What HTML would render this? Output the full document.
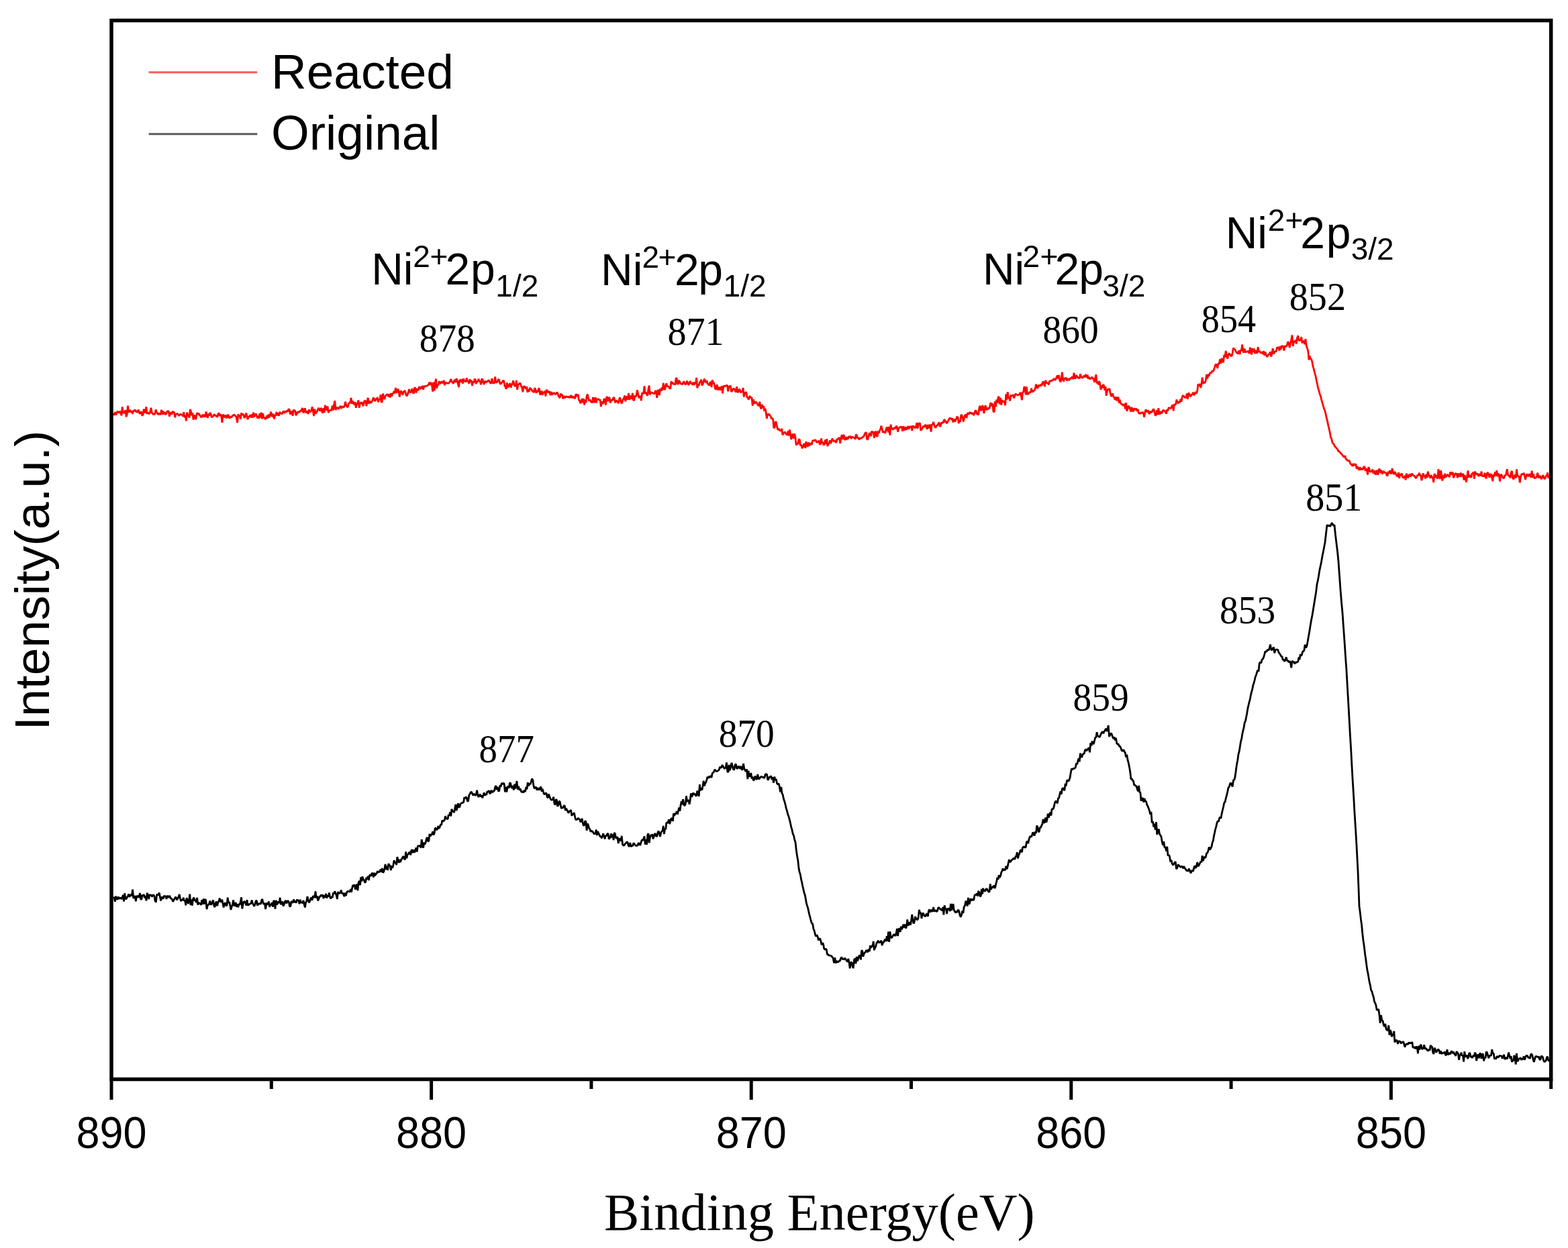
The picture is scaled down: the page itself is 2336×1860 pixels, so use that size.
<!DOCTYPE html>
<html><head><meta charset="utf-8"><title>Ni 2p XPS</title>
<style>
html,body{margin:0;padding:0;background:#fff;}
body{width:2336px;height:1860px;overflow:hidden;}
svg{display:block;}
.sans{font-family:"Liberation Sans",Arial,sans-serif;}
.serif{font-family:"Liberation Serif","Times New Roman",serif;}
</style></head><body>
<svg width="2336" height="1860" viewBox="0 0 2336 1860">
<rect width="2336" height="1860" fill="#fff"/>
<path d="M168.0,617.1 169.2,617.0 170.4,618.7 171.6,614.1 172.7,618.3 173.9,615.7 175.1,613.2 176.3,613.9 177.5,615.5 178.7,612.8 179.9,615.3 181.0,619.3 182.2,606.4 183.4,614.5 184.6,615.6 185.8,614.5 187.0,611.3 188.1,621.3 189.3,616.8 190.5,604.6 191.7,614.9 192.9,612.3 194.1,611.3 195.3,614.6 196.4,612.6 197.6,617.0 198.8,611.5 200.0,612.4 201.2,610.6 202.4,614.0 203.6,611.9 204.8,615.1 206.0,610.7 207.1,612.8 208.3,616.8 209.5,615.2 210.7,613.5 211.9,619.8 213.1,617.4 214.3,609.8 215.5,613.2 216.7,615.3 217.9,606.3 219.0,616.9 220.2,614.8 221.4,616.4 222.6,616.7 223.8,614.1 225.0,607.8 226.2,615.2 227.4,616.2 228.6,617.9 229.8,617.3 231.0,616.5 232.1,610.4 233.3,614.5 234.5,615.8 235.7,618.2 236.9,615.5 238.1,617.0 239.3,617.7 240.5,610.7 241.7,617.6 242.9,612.5 244.0,617.6 245.2,614.2 246.4,617.6 247.6,616.8 248.8,613.2 250.0,613.0 251.2,612.5 252.4,620.9 253.6,616.1 254.8,615.0 256.0,617.8 257.1,612.9 258.3,614.8 259.5,613.9 260.7,622.1 261.9,617.5 263.1,617.0 264.3,616.4 265.5,618.0 266.7,619.5 267.9,618.1 269.0,617.1 270.2,618.0 271.4,618.3 272.6,620.5 273.8,614.2 275.0,622.2 276.2,618.6 277.4,627.4 278.6,614.6 279.8,618.7 281.0,619.7 282.1,622.5 283.3,610.0 284.5,613.6 285.7,619.4 286.9,615.5 288.1,625.5 289.3,620.3 290.5,619.1 291.7,625.3 292.9,618.5 294.0,615.0 295.2,617.8 296.4,616.0 297.6,619.1 298.8,620.1 300.0,622.4 301.2,619.0 302.4,618.3 303.6,621.7 304.8,617.6 306.0,621.3 307.1,613.5 308.3,620.8 309.5,622.5 310.7,616.4 311.9,619.4 313.1,614.9 314.3,618.1 315.5,622.0 316.7,621.0 317.9,619.6 319.0,617.6 320.2,618.5 321.4,620.2 322.6,619.3 323.8,622.0 325.0,616.7 326.2,615.6 327.4,619.8 328.6,617.1 329.8,621.1 331.0,629.9 332.1,617.7 333.3,619.9 334.5,622.0 335.7,618.6 336.9,621.6 338.1,623.1 339.3,617.8 340.5,619.3 341.7,623.2 342.9,622.5 344.0,620.8 345.2,622.1 346.4,619.0 347.6,619.5 348.8,617.8 350.0,619.1 351.2,620.0 352.4,623.0 353.6,630.0 354.8,617.4 356.0,619.6 357.1,619.9 358.3,624.5 359.5,615.5 360.7,618.8 361.9,616.7 363.1,619.4 364.3,623.0 365.5,620.1 366.7,615.7 367.9,619.9 369.0,625.1 370.2,620.8 371.4,621.9 372.6,618.4 373.8,622.0 375.0,617.5 376.2,622.8 377.4,614.6 378.6,621.3 379.8,618.9 381.0,616.6 382.1,618.4 383.3,623.2 384.5,619.8 385.7,623.8 386.9,616.1 388.1,622.4 389.3,614.6 390.5,624.3 391.7,616.2 392.9,623.3 394.0,621.7 395.2,624.9 396.4,623.2 397.6,619.4 398.8,623.6 400.0,617.6 401.2,622.2 402.4,618.6 403.6,613.7 404.8,619.6 406.0,621.0 407.2,616.6 408.4,624.4 409.6,619.6 410.8,618.7 412.0,614.0 413.2,619.4 414.4,615.6 415.6,619.7 416.8,613.8 418.0,616.2 419.2,615.7 420.4,617.2 421.6,613.8 422.8,612.7 424.0,615.8 425.2,612.5 426.4,614.4 427.6,611.4 428.8,613.4 430.0,609.4 431.2,610.8 432.4,617.4 433.6,614.1 434.8,613.2 436.1,619.8 437.3,611.0 438.5,611.5 439.7,612.4 440.9,618.9 442.1,617.3 443.3,613.3 444.5,615.3 445.8,613.8 447.0,612.3 448.2,613.5 449.4,610.2 450.6,608.1 451.8,615.0 453.0,613.9 454.2,608.3 455.5,614.6 456.7,614.3 457.9,612.7 459.1,617.1 460.3,610.4 461.5,613.5 462.7,613.9 463.9,611.8 465.2,606.2 466.4,613.1 467.6,620.0 468.8,609.6 470.0,616.6 471.2,614.9 472.4,613.4 473.6,610.3 474.8,607.9 476.0,611.3 477.2,612.4 478.4,607.9 479.6,612.9 480.8,615.8 482.0,608.1 483.2,614.8 484.4,603.8 485.6,608.1 486.8,611.6 488.0,605.4 489.2,615.2 490.4,612.1 491.6,611.8 492.8,610.8 494.0,611.8 495.2,604.5 496.4,611.6 497.6,603.5 498.8,597.2 500.0,611.2 501.2,607.6 502.4,607.3 503.6,609.2 504.8,609.1 506.1,606.5 507.3,605.2 508.5,608.9 509.7,605.9 510.9,606.4 512.1,607.1 513.3,604.8 514.5,598.7 515.8,603.8 517.0,606.2 518.2,606.9 519.4,601.4 520.6,600.5 521.8,599.8 523.0,593.0 524.2,601.7 525.5,597.8 526.7,600.6 527.9,603.3 529.1,599.2 530.3,607.8 531.5,602.5 532.7,601.1 533.9,596.5 535.2,607.8 536.4,600.7 537.6,600.8 538.8,599.4 540.0,602.3 541.2,605.3 542.4,598.7 543.5,596.9 544.7,598.4 545.9,605.2 547.1,598.1 548.2,592.9 549.4,601.9 550.6,597.2 551.8,600.6 552.9,599.7 554.1,598.3 555.3,595.8 556.5,592.3 557.6,596.0 558.8,598.2 560.0,594.1 561.2,595.8 562.4,592.0 563.5,599.4 564.7,595.0 565.9,595.9 567.1,588.2 568.2,600.2 569.4,597.7 570.6,586.6 571.8,591.7 572.9,595.2 574.1,590.5 575.3,589.0 576.5,588.3 577.6,587.4 578.8,591.3 580.0,587.4 581.2,592.4 582.4,586.1 583.5,590.7 584.7,586.8 585.9,586.3 587.1,583.0 588.2,586.4 589.4,577.9 590.6,585.9 591.8,583.3 592.9,579.7 594.1,583.3 595.3,591.6 596.5,584.5 597.6,582.3 598.8,585.8 600.0,588.5 601.2,584.0 602.4,582.5 603.5,582.9 604.7,587.7 605.9,590.3 607.1,588.2 608.2,584.8 609.4,580.0 610.6,584.3 611.8,585.1 612.9,582.5 614.1,579.1 615.3,585.6 616.5,586.2 617.6,578.0 618.8,578.1 620.0,585.5 621.2,579.3 622.4,581.4 623.5,580.8 624.7,576.0 625.9,580.0 627.1,576.4 628.2,579.3 629.4,575.0 630.6,580.7 631.8,574.9 632.9,576.7 634.1,575.3 635.3,575.2 636.5,574.7 637.6,574.2 638.8,572.6 640.0,569.4 641.2,573.8 642.4,570.1 643.5,574.1 644.7,583.6 645.9,569.7 647.1,582.4 648.2,570.9 649.4,564.6 650.6,579.0 651.8,573.0 652.9,574.2 654.1,568.2 655.3,570.6 656.5,571.9 657.6,568.8 658.8,569.5 660.0,571.1 661.2,566.8 662.4,574.2 663.5,569.7 664.7,571.1 665.9,570.7 667.1,571.2 668.2,571.3 669.4,570.1 670.6,568.2 671.8,564.9 672.9,568.2 674.1,570.2 675.3,571.7 676.5,567.8 677.6,566.0 678.8,570.1 680.0,564.1 681.2,567.3 682.4,572.1 683.5,577.1 684.7,565.9 685.9,569.6 687.1,565.1 688.2,567.4 689.4,571.7 690.6,564.2 691.8,568.2 692.9,568.3 694.1,568.9 695.3,563.3 696.5,569.3 697.6,567.0 698.8,571.8 700.0,565.3 701.2,569.0 702.4,566.9 703.5,574.9 704.7,568.4 705.9,570.7 707.1,564.8 708.2,565.8 709.4,572.2 710.6,568.3 711.8,568.7 712.9,564.6 714.1,568.1 715.3,568.8 716.5,573.2 717.6,565.0 718.8,565.1 720.0,570.1 721.2,572.9 722.4,568.2 723.5,568.9 724.7,569.9 725.9,568.3 727.1,567.7 728.2,566.4 729.4,569.2 730.6,571.1 731.8,571.2 732.9,564.0 734.1,571.0 735.3,570.7 736.5,571.1 737.6,561.5 738.8,569.2 740.0,570.1 741.2,568.5 742.4,565.6 743.5,565.6 744.7,571.3 745.9,572.5 747.1,570.3 748.2,569.8 749.4,567.3 750.6,567.3 751.8,574.5 752.9,576.6 754.1,579.7 755.3,570.4 756.5,576.0 757.6,577.1 758.8,573.2 760.0,571.1 761.2,577.5 762.4,573.4 763.5,572.1 764.7,567.0 765.9,573.6 767.1,575.6 768.2,575.0 769.4,567.0 770.6,580.8 771.8,573.4 772.9,572.7 774.1,571.0 775.3,571.5 776.5,575.8 777.6,577.0 778.8,584.2 780.0,576.0 781.2,575.8 782.4,577.3 783.5,579.6 784.7,576.1 785.9,584.7 787.1,580.3 788.2,583.8 789.4,578.1 790.6,579.1 791.8,580.2 792.9,583.0 794.1,583.3 795.3,584.9 796.5,578.3 797.6,580.0 798.8,585.8 800.0,581.8 801.2,584.4 802.4,579.1 803.5,579.1 804.7,588.6 805.9,586.1 807.1,582.6 808.2,588.5 809.4,584.5 810.6,585.6 811.8,582.7 812.9,590.5 814.1,581.0 815.3,582.1 816.5,585.1 817.6,584.1 818.8,583.3 820.0,589.1 821.2,584.0 822.4,588.3 823.5,586.2 824.7,586.0 825.9,585.6 827.1,587.8 828.2,587.2 829.4,585.2 830.6,585.6 831.8,589.7 832.9,591.6 834.1,593.1 835.3,586.6 836.5,589.7 837.6,587.8 838.8,594.3 840.0,589.9 841.2,593.1 842.4,592.0 843.5,590.7 844.7,591.5 845.9,591.4 847.1,592.3 848.2,591.0 849.4,593.2 850.6,588.9 851.8,593.1 852.9,590.1 854.1,593.5 855.3,590.7 856.5,594.3 857.6,588.2 858.8,587.9 860.0,591.1 861.2,587.7 862.4,596.7 863.5,596.4 864.7,601.1 865.9,598.9 867.1,594.2 868.2,600.2 869.4,594.0 870.6,603.6 871.8,595.9 872.9,600.0 874.1,590.6 875.3,587.5 876.5,593.3 877.6,597.6 878.8,595.7 880.0,598.1 881.2,599.5 882.4,599.5 883.5,592.0 884.7,600.4 885.9,594.8 887.1,592.3 888.2,600.4 889.4,595.2 890.6,594.7 891.8,595.0 892.9,596.5 894.1,595.3 895.3,606.1 896.5,598.4 897.6,601.7 898.8,600.5 900.0,594.0 901.2,597.0 902.4,603.5 903.5,592.1 904.7,591.6 905.9,598.3 907.1,592.7 908.2,592.9 909.4,600.7 910.6,595.6 911.8,596.9 912.9,595.7 914.1,592.0 915.3,594.1 916.5,600.3 917.6,597.4 918.8,597.4 920.0,598.7 921.2,601.2 922.4,595.7 923.5,592.3 924.7,597.2 925.9,601.4 927.1,598.8 928.2,594.9 929.4,594.5 930.6,589.4 931.8,598.4 932.9,593.2 934.1,590.5 935.3,595.6 936.5,585.9 937.6,595.8 938.8,591.6 940.0,589.8 941.2,595.0 942.4,585.8 943.5,596.4 944.7,596.7 945.9,589.6 947.1,591.5 948.2,588.9 949.4,581.2 950.6,587.1 951.8,593.1 952.9,591.6 954.1,590.1 955.3,597.2 956.5,586.5 957.6,585.3 958.8,586.9 960.0,575.5 961.2,586.9 962.4,584.7 963.5,588.3 964.7,589.5 965.9,580.6 967.1,574.5 968.2,588.3 969.4,584.5 970.6,584.8 971.8,585.6 972.9,586.0 974.1,586.7 975.3,586.1 976.5,581.9 977.6,585.9 978.8,592.9 980.0,581.0 981.2,582.5 982.4,589.1 983.5,579.5 984.7,582.6 985.9,577.6 987.1,581.9 988.2,570.8 989.4,578.1 990.6,581.0 991.8,574.5 992.9,571.3 994.1,576.1 995.3,575.4 996.5,576.8 997.6,578.9 998.8,579.2 1000.0,568.2 1001.2,571.0 1002.4,570.7 1003.5,573.0 1004.7,571.4 1005.9,573.7 1007.1,563.3 1008.2,564.1 1009.4,572.7 1010.6,571.5 1011.8,566.6 1012.9,569.8 1014.1,572.2 1015.3,571.6 1016.5,573.2 1017.6,570.5 1018.8,568.3 1020.0,571.4 1021.2,573.2 1022.4,572.2 1023.5,567.7 1024.7,570.5 1025.9,573.7 1027.1,571.7 1028.2,568.0 1029.4,570.7 1030.6,571.8 1031.8,573.6 1032.9,569.6 1034.1,573.5 1035.3,569.8 1036.5,572.1 1037.6,562.8 1038.8,578.4 1040.0,573.3 1041.2,575.0 1042.4,568.9 1043.5,569.5 1044.7,565.6 1045.9,574.5 1047.1,572.4 1048.2,568.4 1049.4,564.3 1050.6,568.8 1051.8,570.0 1052.9,567.2 1054.1,572.0 1055.3,572.5 1056.5,574.7 1057.6,570.5 1058.8,569.0 1060.0,577.0 1061.2,566.3 1062.4,570.5 1063.5,570.5 1064.7,574.8 1065.9,580.8 1067.1,578.4 1068.2,573.1 1069.4,581.3 1070.6,578.8 1071.8,577.1 1072.9,581.4 1074.1,578.2 1075.3,575.5 1076.5,586.3 1077.6,576.6 1078.8,574.8 1080.0,575.8 1081.2,574.8 1082.4,574.5 1083.5,574.0 1084.7,583.2 1085.9,576.0 1087.1,576.3 1088.2,574.5 1089.4,583.3 1090.6,583.2 1091.8,580.0 1092.9,579.2 1094.1,579.5 1095.3,582.7 1096.5,584.3 1097.6,576.1 1098.8,584.7 1100.0,584.1 1101.2,580.0 1102.4,581.4 1103.5,585.1 1104.7,583.5 1105.9,583.9 1107.1,577.9 1108.2,591.5 1109.4,586.6 1110.6,584.6 1111.8,585.1 1112.9,591.7 1114.1,593.1 1115.3,595.7 1116.5,591.2 1117.6,590.6 1118.8,593.5 1120.0,592.3 1121.2,604.7 1122.4,595.2 1123.5,600.5 1124.7,601.2 1125.9,598.9 1127.1,599.5 1128.2,601.9 1129.4,604.2 1130.6,604.6 1131.8,598.7 1132.9,606.8 1134.1,609.4 1135.3,602.9 1136.5,607.9 1137.6,605.1 1138.8,612.8 1140.0,608.8 1141.2,615.0 1142.4,624.0 1143.5,616.9 1144.7,618.7 1145.9,616.7 1147.1,619.5 1148.2,620.3 1149.4,624.3 1150.6,623.0 1151.8,626.3 1152.9,637.8 1154.1,636.8 1155.3,628.1 1156.5,629.9 1157.6,635.9 1158.8,640.7 1160.0,638.8 1161.2,640.9 1162.4,642.1 1163.5,641.5 1164.7,638.8 1165.9,648.4 1167.1,645.6 1168.2,645.1 1169.4,643.6 1170.6,646.1 1171.8,647.5 1172.9,648.5 1174.1,642.3 1175.3,649.6 1176.5,640.1 1177.6,647.7 1178.8,654.9 1180.0,648.2 1181.2,646.5 1182.5,653.4 1183.8,646.6 1185.0,652.5 1186.2,663.7 1187.5,659.9 1188.8,662.2 1190.0,655.2 1191.2,654.6 1192.5,664.3 1193.8,662.9 1195.0,668.3 1196.2,666.5 1197.4,662.4 1198.6,661.3 1199.8,667.9 1201.0,658.1 1202.1,664.2 1203.3,665.5 1204.5,659.4 1205.7,664.7 1206.9,660.4 1208.1,661.6 1209.3,662.6 1210.5,656.9 1211.7,656.6 1212.9,656.7 1214.0,655.7 1215.2,656.1 1216.4,659.1 1217.6,659.1 1218.8,658.5 1220.0,656.6 1221.2,661.6 1222.4,662.4 1223.5,653.3 1224.7,660.6 1225.9,659.1 1227.1,663.6 1228.2,661.8 1229.4,655.4 1230.6,661.7 1231.8,654.1 1232.9,665.2 1234.1,661.4 1235.3,661.0 1236.5,656.2 1237.6,661.0 1238.8,657.8 1240.0,653.4 1241.2,656.6 1242.4,657.9 1243.5,657.8 1244.7,656.2 1245.9,660.0 1247.1,654.2 1248.2,654.7 1249.4,652.9 1250.6,652.6 1251.8,660.9 1252.9,652.7 1254.1,648.0 1255.3,655.1 1256.5,648.1 1257.6,649.5 1258.8,656.1 1260.0,651.2 1261.2,655.7 1262.4,651.1 1263.5,654.4 1264.7,650.0 1265.9,651.8 1267.1,649.9 1268.2,653.9 1269.4,651.1 1270.6,651.6 1271.8,652.4 1272.9,652.2 1274.1,654.7 1275.3,647.4 1276.5,649.2 1277.6,653.2 1278.8,652.3 1280.0,655.3 1281.2,652.9 1282.4,653.5 1283.5,652.8 1284.7,651.9 1285.9,650.8 1287.1,650.1 1288.2,647.1 1289.4,644.7 1290.6,645.0 1291.8,655.3 1292.9,654.8 1294.1,650.2 1295.3,645.4 1296.5,646.3 1297.6,650.1 1298.8,642.5 1300.0,644.8 1301.2,643.3 1302.4,652.6 1303.5,648.2 1304.7,642.4 1305.9,650.0 1307.1,650.3 1308.2,642.3 1309.4,645.5 1310.6,641.5 1311.8,639.6 1312.9,634.5 1314.1,639.4 1315.3,644.3 1316.5,643.5 1317.6,643.7 1318.8,645.6 1320.0,640.2 1321.2,636.3 1322.4,641.0 1323.5,644.2 1324.7,635.8 1325.9,648.7 1327.1,632.7 1328.2,638.8 1329.4,638.9 1330.6,640.4 1331.8,637.9 1332.9,637.7 1334.1,638.8 1335.3,634.7 1336.5,637.1 1337.6,643.6 1338.8,639.2 1340.0,636.9 1341.2,636.3 1342.4,637.1 1343.5,635.7 1344.7,642.8 1345.9,635.1 1347.1,640.4 1348.2,640.6 1349.4,636.4 1350.6,640.3 1351.8,637.8 1352.9,635.1 1354.1,639.5 1355.3,635.3 1356.5,636.8 1357.6,635.1 1358.8,641.7 1360.0,634.6 1361.2,635.7 1362.4,636.6 1363.5,638.3 1364.7,635.6 1365.9,630.0 1367.1,638.7 1368.2,632.0 1369.4,630.9 1370.6,631.0 1371.8,641.8 1372.9,640.1 1374.1,638.2 1375.3,635.6 1376.5,634.7 1377.6,636.8 1378.8,632.7 1380.0,635.6 1381.2,639.8 1382.4,633.1 1383.5,638.4 1384.7,633.6 1385.9,633.3 1387.1,643.7 1388.2,632.9 1389.4,632.7 1390.6,628.9 1391.8,633.4 1392.9,636.5 1394.1,637.2 1395.3,634.1 1396.5,634.0 1397.6,632.4 1398.8,629.2 1400.0,634.9 1401.2,635.3 1402.4,629.7 1403.5,630.3 1404.7,630.2 1405.9,627.7 1407.1,624.7 1408.2,629.6 1409.4,627.7 1410.6,631.2 1411.8,628.5 1412.9,626.9 1414.1,624.1 1415.3,622.8 1416.5,623.8 1417.6,625.8 1418.8,623.5 1420.0,629.5 1421.2,624.5 1422.4,627.9 1423.5,627.4 1424.7,623.9 1425.9,620.8 1427.1,622.2 1428.2,631.1 1429.4,626.3 1430.6,628.9 1431.8,618.3 1432.9,618.8 1434.1,622.3 1435.3,628.5 1436.5,622.6 1437.6,618.8 1438.8,618.0 1440.0,623.0 1441.2,615.7 1442.4,616.2 1443.5,617.6 1444.7,614.2 1445.9,615.5 1447.1,615.3 1448.2,617.2 1449.4,615.1 1450.6,619.0 1451.8,615.8 1452.9,612.1 1454.1,611.8 1455.3,617.6 1456.5,614.4 1457.6,618.9 1458.8,608.3 1460.0,604.8 1461.2,611.5 1462.4,611.4 1463.5,604.1 1464.7,606.7 1465.9,616.0 1467.1,608.1 1468.2,604.1 1469.4,611.2 1470.6,607.8 1471.8,610.4 1472.9,607.6 1474.1,609.1 1475.3,602.1 1476.5,600.3 1477.6,605.4 1478.8,601.2 1480.0,613.9 1481.2,613.4 1482.4,598.1 1483.5,606.2 1484.7,595.6 1485.9,600.7 1487.1,592.0 1488.2,591.3 1489.4,602.4 1490.6,593.0 1491.8,603.7 1492.9,595.9 1494.1,599.2 1495.3,597.9 1496.5,598.8 1497.6,604.3 1498.8,587.3 1500.0,595.7 1501.2,584.2 1502.4,592.6 1503.5,592.9 1504.7,597.5 1505.9,588.9 1507.1,589.9 1508.2,590.2 1509.4,588.2 1510.6,593.4 1511.8,590.0 1512.9,586.9 1514.1,587.6 1515.3,588.5 1516.5,588.8 1517.6,588.6 1518.8,587.8 1520.0,584.9 1521.2,589.2 1522.4,596.3 1523.5,584.6 1524.7,584.6 1525.9,576.2 1527.1,578.2 1528.2,588.4 1529.4,576.4 1530.6,588.1 1531.8,586.9 1532.9,586.2 1534.1,584.0 1535.3,585.6 1536.5,578.7 1537.6,583.1 1538.8,584.4 1540.0,582.2 1541.2,581.9 1542.4,578.3 1543.5,572.7 1544.7,577.3 1545.9,579.0 1547.1,573.7 1548.2,575.5 1549.4,575.0 1550.6,572.8 1551.8,575.1 1552.9,571.2 1554.1,568.6 1555.3,571.6 1556.5,576.2 1557.6,566.8 1558.8,570.3 1560.0,571.0 1561.2,571.0 1562.4,573.4 1563.5,567.8 1564.7,568.3 1565.9,567.8 1567.1,566.4 1568.2,567.3 1569.4,565.1 1570.6,564.5 1571.8,566.7 1572.9,564.8 1574.1,562.5 1575.3,559.4 1576.5,564.3 1577.6,559.0 1578.8,566.7 1580.0,569.3 1581.2,565.0 1582.4,554.7 1583.5,565.4 1584.7,568.6 1585.9,563.2 1587.1,564.6 1588.2,562.7 1589.4,567.3 1590.6,565.0 1591.8,565.0 1592.9,567.0 1594.1,563.7 1595.3,564.3 1596.5,562.7 1597.6,561.3 1598.8,565.2 1600.0,555.6 1601.2,563.3 1602.4,563.9 1603.5,559.2 1604.7,561.5 1605.9,562.8 1607.1,563.3 1608.2,563.9 1609.4,557.6 1610.6,560.8 1611.8,563.3 1612.9,562.9 1614.1,561.4 1615.3,559.7 1616.5,562.2 1617.6,557.8 1618.8,562.7 1620.0,558.7 1621.2,564.8 1622.4,561.9 1623.5,564.5 1624.7,564.8 1625.9,563.1 1627.1,562.0 1628.2,563.7 1629.4,565.8 1630.6,569.7 1631.8,563.0 1632.9,558.4 1634.1,571.4 1635.3,569.0 1636.5,573.3 1637.6,568.0 1638.8,572.3 1640.0,580.8 1641.2,574.3 1642.4,578.5 1643.5,573.0 1644.7,574.7 1645.9,581.8 1647.1,576.4 1648.2,589.8 1649.4,583.6 1650.6,579.6 1651.8,580.8 1652.9,579.1 1654.1,585.9 1655.3,590.0 1656.5,590.0 1657.6,586.3 1658.8,591.0 1660.0,592.5 1661.2,595.7 1662.4,591.4 1663.5,597.2 1664.7,594.3 1665.9,591.6 1667.1,600.5 1668.2,595.5 1669.4,601.2 1670.6,602.2 1671.8,602.6 1672.9,604.2 1674.1,603.9 1675.3,602.0 1676.5,609.5 1677.6,600.2 1678.8,612.7 1680.0,609.3 1681.2,605.0 1682.4,606.0 1683.5,609.2 1684.7,613.6 1685.9,607.1 1687.1,609.8 1688.2,613.5 1689.4,609.4 1690.6,609.2 1691.8,611.1 1692.9,608.5 1694.1,613.0 1695.3,610.1 1696.5,616.2 1697.6,616.0 1698.8,616.5 1700.0,614.5 1701.2,616.0 1702.4,613.9 1703.5,616.7 1704.7,621.7 1705.9,613.9 1707.1,610.3 1708.2,614.2 1709.4,613.1 1710.6,611.5 1711.8,616.5 1712.9,616.3 1714.1,613.0 1715.3,614.9 1716.5,613.3 1717.6,610.9 1718.8,609.4 1720.0,614.2 1721.2,619.5 1722.4,618.2 1723.5,611.3 1724.7,618.2 1725.9,608.2 1727.1,617.2 1728.2,616.5 1729.4,613.1 1730.6,616.1 1731.8,614.0 1732.9,611.0 1734.1,611.8 1735.3,612.7 1736.5,614.3 1737.6,616.5 1738.8,610.2 1740.0,612.1 1741.2,607.3 1742.4,608.1 1743.5,608.3 1744.7,608.2 1745.9,605.0 1747.1,603.4 1748.2,612.3 1749.4,602.3 1750.6,603.9 1751.8,601.8 1752.9,595.6 1754.1,599.6 1755.3,601.3 1756.5,598.3 1757.6,600.1 1758.8,594.9 1760.0,598.7 1761.2,592.0 1762.4,589.2 1763.5,590.4 1764.7,592.0 1765.9,592.7 1767.1,591.6 1768.2,586.5 1769.4,594.7 1770.6,585.4 1771.8,587.3 1772.9,590.4 1774.1,590.5 1775.3,587.8 1776.5,587.7 1777.6,584.8 1778.8,589.2 1780.0,587.0 1781.2,583.9 1782.5,586.5 1783.8,582.2 1785.0,572.1 1786.2,575.6 1787.5,572.0 1788.8,577.9 1790.0,573.0 1791.2,562.4 1792.5,571.9 1793.8,569.3 1795.0,571.0 1796.2,567.6 1797.5,558.1 1798.8,564.6 1800.0,557.5 1801.2,560.7 1802.5,556.2 1803.8,555.1 1805.0,555.8 1806.2,552.3 1807.5,553.4 1808.8,549.8 1810.0,546.1 1811.2,542.8 1812.5,544.2 1813.8,549.0 1815.0,541.3 1816.2,543.0 1817.5,535.4 1818.8,541.7 1820.0,533.8 1821.2,538.2 1822.5,540.2 1823.8,528.8 1825.0,532.2 1826.2,523.0 1827.5,530.7 1828.8,534.6 1830.0,528.8 1831.2,526.5 1832.5,528.4 1833.8,530.4 1835.0,530.7 1836.2,526.1 1837.5,518.5 1838.8,520.3 1840.0,521.1 1841.2,524.1 1842.4,525.1 1843.5,527.1 1844.7,526.1 1845.9,522.4 1847.1,528.1 1848.2,521.7 1849.4,523.2 1850.6,513.4 1851.8,522.3 1852.9,525.8 1854.1,519.5 1855.3,525.0 1856.5,524.5 1857.6,523.6 1858.8,524.0 1860.0,523.3 1861.2,527.0 1862.4,517.8 1863.5,524.3 1864.7,528.4 1865.9,519.3 1867.1,524.8 1868.2,519.6 1869.4,526.9 1870.6,522.1 1871.8,525.6 1872.9,526.2 1874.1,517.2 1875.3,524.7 1876.5,523.1 1877.6,525.0 1878.8,526.1 1880.0,524.5 1881.2,527.8 1882.5,523.0 1883.8,529.7 1885.0,524.7 1886.2,528.8 1887.5,531.6 1888.8,530.5 1890.0,527.4 1891.2,528.5 1892.5,524.2 1893.8,531.4 1895.0,526.8 1896.2,519.1 1897.5,527.4 1898.8,525.2 1900.0,523.2 1901.2,524.2 1902.4,518.1 1903.5,518.1 1904.7,517.5 1905.9,522.6 1907.1,516.1 1908.2,521.1 1909.4,514.9 1910.6,518.0 1911.8,515.1 1912.9,522.5 1914.1,515.8 1915.3,516.0 1916.5,516.4 1917.6,513.7 1918.8,509.1 1920.0,511.1 1921.2,518.1 1922.5,511.9 1923.8,506.4 1925.0,499.4 1926.2,516.0 1927.5,509.4 1928.8,508.7 1930.0,507.0 1931.2,512.5 1932.5,503.7 1933.8,500.3 1935.0,507.9 1936.2,506.8 1937.5,507.1 1938.8,502.5 1940.0,511.3 1941.2,509.6 1942.5,507.9 1943.8,513.1 1945.0,505.1 1946.2,515.2 1947.5,519.1 1948.8,523.0 1950.0,536.4 1951.2,530.4 1952.5,534.8 1953.8,535.6 1955.0,540.0 1956.2,546.5 1957.5,550.6 1958.8,556.4 1960.0,560.2 1961.2,566.6 1962.5,572.3 1963.8,578.8 1965.0,582.4 1966.2,587.4 1967.5,590.3 1968.8,596.2 1970.0,600.3 1971.2,604.4 1972.5,609.0 1973.8,612.1 1975.0,616.7 1976.2,622.4 1977.5,627.6 1978.8,633.7 1980.0,638.8 1981.2,644.3 1982.5,651.6 1983.8,654.2 1985.0,659.6 1986.2,661.3 1987.5,662.6 1988.8,665.7 1990.0,666.4 1991.2,668.4 1992.5,669.2 1993.8,672.8 1995.0,672.3 1996.2,673.9 1997.5,675.6 1998.8,676.7 2000.0,678.2 2001.2,680.1 2002.5,681.4 2003.8,679.1 2005.0,684.1 2006.2,684.4 2007.5,686.7 2008.8,686.7 2010.0,686.1 2011.2,689.5 2012.5,692.1 2013.8,692.2 2015.0,694.8 2016.2,691.0 2017.5,693.7 2018.8,691.5 2020.0,692.6 2021.2,698.7 2022.4,695.1 2023.5,698.7 2024.7,700.6 2025.9,696.3 2027.1,700.0 2028.2,697.8 2029.4,700.0 2030.6,698.7 2031.8,695.6 2032.9,695.7 2034.1,701.8 2035.3,698.1 2036.5,702.2 2037.6,707.5 2038.8,696.2 2040.0,698.6 2041.2,703.5 2042.4,702.1 2043.5,703.4 2044.7,699.5 2045.9,705.1 2047.1,704.9 2048.2,701.2 2049.4,707.8 2050.6,703.2 2051.8,700.8 2052.9,707.8 2054.1,700.1 2055.3,698.8 2056.5,705.0 2057.6,700.5 2058.8,705.3 2060.0,705.9 2061.2,701.9 2062.4,704.4 2063.5,704.4 2064.7,704.4 2065.9,708.0 2067.1,709.6 2068.2,702.7 2069.4,705.9 2070.6,701.2 2071.8,703.9 2072.9,706.3 2074.1,698.0 2075.3,702.8 2076.5,707.2 2077.6,703.1 2078.8,704.5 2080.0,707.4 2081.2,709.7 2082.4,709.5 2083.5,704.0 2084.7,712.7 2085.9,706.5 2087.1,708.7 2088.2,705.4 2089.4,710.8 2090.6,711.5 2091.8,712.5 2092.9,708.9 2094.1,715.2 2095.3,705.7 2096.5,709.1 2097.6,712.3 2098.8,709.4 2100.0,706.5 2101.2,710.2 2102.4,708.2 2103.6,705.5 2104.8,708.1 2106.0,709.0 2107.1,708.8 2108.3,711.0 2109.5,712.9 2110.7,710.6 2111.9,707.8 2113.1,709.0 2114.3,704.8 2115.5,708.1 2116.7,708.6 2117.9,716.1 2119.0,712.2 2120.2,705.5 2121.4,709.3 2122.6,709.5 2123.8,713.2 2125.0,706.8 2126.2,711.7 2127.4,702.7 2128.6,708.0 2129.8,709.7 2131.0,712.7 2132.1,708.1 2133.3,711.4 2134.5,711.4 2135.7,719.0 2136.9,706.4 2138.1,707.5 2139.3,711.9 2140.5,708.2 2141.7,713.8 2142.9,699.3 2144.0,705.9 2145.2,714.0 2146.4,701.2 2147.6,707.0 2148.8,716.5 2150.0,708.6 2151.2,713.0 2152.4,705.8 2153.6,711.4 2154.8,710.0 2156.0,707.2 2157.1,707.7 2158.3,709.6 2159.5,710.9 2160.7,703.6 2161.9,705.0 2163.1,707.4 2164.3,703.7 2165.5,712.3 2166.7,709.1 2167.9,705.6 2169.0,705.8 2170.2,706.4 2171.4,712.2 2172.6,705.4 2173.8,708.5 2175.0,710.5 2176.2,704.6 2177.4,710.1 2178.6,708.2 2179.8,706.0 2181.0,715.5 2182.1,708.1 2183.3,712.2 2184.5,718.5 2185.7,710.4 2186.9,701.4 2188.1,711.6 2189.3,709.5 2190.5,708.3 2191.7,712.1 2192.9,705.5 2194.0,706.3 2195.2,703.3 2196.4,713.6 2197.6,702.5 2198.8,706.9 2200.0,706.1 2201.2,705.8 2202.4,709.7 2203.6,708.4 2204.8,705.9 2206.0,709.3 2207.1,702.6 2208.3,710.1 2209.5,708.9 2210.7,710.2 2211.9,704.8 2213.1,710.8 2214.3,713.1 2215.5,705.1 2216.7,704.5 2217.9,708.1 2219.0,711.7 2220.2,706.5 2221.4,707.0 2222.6,711.5 2223.8,717.3 2225.0,707.0 2226.2,710.2 2227.4,703.5 2228.6,709.3 2229.8,701.3 2231.0,710.1 2232.1,705.7 2233.3,707.8 2234.5,717.7 2235.7,708.0 2236.9,707.2 2238.1,710.4 2239.3,712.1 2240.5,712.9 2241.7,708.7 2242.9,708.6 2244.0,706.0 2245.2,699.3 2246.4,707.0 2247.6,709.8 2248.8,708.4 2250.0,712.4 2251.2,704.4 2252.4,701.9 2253.6,712.1 2254.8,714.3 2256.0,709.9 2257.1,707.7 2258.3,712.3 2259.5,699.4 2260.7,709.4 2261.9,709.8 2263.1,709.8 2264.3,719.4 2265.5,710.8 2266.7,706.6 2267.9,706.6 2269.0,706.9 2270.2,704.9 2271.4,709.5 2272.6,714.9 2273.8,708.5 2275.0,706.4 2276.2,709.2 2277.4,709.7 2278.6,706.1 2279.8,708.9 2281.0,711.5 2282.1,701.7 2283.3,711.6 2284.5,706.2 2285.7,712.6 2286.9,712.7 2288.1,711.2 2289.3,711.7 2290.5,704.7 2291.7,708.8 2292.9,712.6 2294.0,709.0 2295.2,710.6 2296.4,714.2 2297.6,710.4 2298.8,708.2 2300.0,712.4 2301.1,714.0 2302.2,712.3 2303.4,708.9 2304.5,709.1 2305.6,704.2 2306.8,712.5 2307.9,709.6 2309.0,710.1" fill="none" stroke="#ff0000" stroke-width="2.8" stroke-linejoin="bevel"/>
<path d="M169.0,1338.9 170.2,1336.9 171.4,1343.8 172.6,1335.7 173.8,1338.8 175.0,1340.9 176.2,1336.6 177.3,1339.0 178.5,1339.2 179.7,1337.7 180.9,1339.9 182.1,1338.2 183.3,1333.8 184.5,1343.5 185.7,1331.3 186.9,1339.4 188.1,1340.0 189.3,1337.1 190.5,1335.8 191.7,1332.6 192.8,1336.9 194.0,1333.6 195.2,1334.1 196.4,1335.1 197.6,1325.7 198.8,1338.9 200.0,1336.0 201.2,1335.8 202.4,1343.2 203.6,1334.7 204.8,1337.7 206.0,1334.4 207.2,1337.8 208.4,1330.9 209.6,1339.7 210.8,1340.7 212.0,1333.5 213.2,1335.7 214.4,1333.1 215.6,1338.5 216.8,1335.2 218.0,1342.4 219.2,1330.8 220.4,1333.3 221.6,1339.9 222.8,1333.6 224.0,1334.2 225.2,1333.7 226.4,1336.5 227.6,1334.2 228.8,1333.8 230.0,1335.7 231.2,1343.0 232.4,1344.5 233.6,1333.5 234.8,1333.4 236.0,1333.8 237.2,1330.6 238.4,1336.5 239.6,1342.4 240.8,1337.3 242.0,1337.1 243.2,1339.6 244.4,1335.2 245.6,1335.7 246.8,1335.6 248.0,1339.8 249.2,1335.1 250.4,1336.3 251.6,1337.6 252.8,1334.9 254.0,1338.6 255.2,1339.1 256.4,1340.2 257.6,1343.7 258.8,1341.7 260.0,1339.7 261.2,1337.0 262.4,1337.7 263.6,1341.4 264.8,1338.9 266.0,1336.8 267.2,1332.9 268.4,1339.1 269.6,1343.1 270.8,1341.0 272.0,1341.5 273.2,1337.9 274.4,1342.6 275.6,1341.6 276.8,1349.4 278.0,1338.1 279.2,1342.2 280.4,1347.0 281.6,1341.4 282.8,1332.6 284.0,1348.9 285.2,1340.7 286.4,1349.5 287.6,1339.9 288.8,1337.7 290.0,1342.0 291.2,1341.3 292.4,1345.2 293.6,1338.0 294.8,1348.6 296.0,1344.9 297.2,1347.1 298.4,1345.8 299.6,1348.9 300.8,1341.1 302.0,1347.7 303.2,1339.4 304.4,1347.5 305.6,1340.1 306.8,1341.8 308.0,1355.2 309.2,1349.3 310.4,1348.5 311.6,1346.9 312.8,1342.6 314.0,1348.5 315.2,1347.5 316.4,1344.4 317.6,1341.6 318.8,1349.9 320.0,1352.1 321.2,1346.1 322.4,1343.6 323.6,1350.3 324.8,1345.1 326.0,1343.0 327.2,1338.5 328.4,1344.3 329.6,1343.3 330.8,1340.8 332.0,1346.7 333.2,1352.5 334.4,1346.8 335.6,1345.4 336.8,1349.4 338.0,1350.0 339.2,1337.6 340.4,1346.1 341.6,1344.2 342.8,1349.2 344.0,1356.0 345.2,1351.3 346.4,1348.5 347.6,1341.5 348.8,1350.0 350.0,1349.5 351.2,1344.9 352.4,1351.8 353.6,1347.3 354.8,1352.2 356.0,1347.1 357.2,1348.8 358.4,1343.4 359.6,1337.3 360.8,1354.4 362.0,1347.7 363.2,1344.1 364.4,1343.7 365.6,1345.2 366.8,1349.3 368.0,1341.3 369.2,1349.5 370.4,1348.6 371.6,1347.4 372.8,1347.0 374.0,1346.2 375.2,1341.7 376.4,1346.6 377.6,1348.2 378.8,1350.8 380.0,1347.6 381.2,1342.7 382.4,1342.1 383.6,1349.7 384.8,1347.5 386.0,1346.7 387.2,1346.8 388.4,1347.4 389.6,1342.2 390.8,1340.0 392.0,1346.0 393.2,1347.7 394.4,1345.8 395.6,1355.1 396.8,1347.9 398.0,1345.6 399.2,1348.4 400.4,1343.4 401.6,1351.8 402.8,1347.0 404.0,1349.5 405.2,1345.1 406.4,1351.5 407.6,1342.8 408.8,1342.7 410.0,1354.7 411.2,1341.9 412.4,1347.6 413.6,1347.1 414.8,1343.5 416.0,1346.1 417.2,1337.8 418.4,1348.0 419.6,1346.4 420.8,1343.4 422.0,1350.5 423.2,1347.9 424.4,1344.0 425.6,1341.8 426.8,1346.4 428.0,1343.5 429.2,1342.4 430.4,1344.8 431.6,1350.6 432.8,1350.8 434.0,1343.2 435.2,1344.5 436.4,1345.4 437.6,1340.5 438.8,1344.8 440.0,1342.8 441.2,1345.7 442.4,1340.6 443.6,1342.6 444.8,1341.3 446.0,1347.3 447.2,1340.9 448.4,1345.2 449.6,1345.2 450.8,1345.7 452.0,1342.0 453.2,1347.9 454.4,1352.4 455.6,1345.1 456.8,1342.8 458.0,1336.0 459.2,1341.8 460.4,1345.2 461.6,1343.3 462.8,1339.2 464.0,1337.6 465.2,1341.8 466.4,1335.3 467.6,1336.4 468.8,1337.9 470.0,1328.3 471.2,1338.7 472.4,1335.2 473.6,1342.3 474.8,1340.0 476.0,1336.1 477.2,1336.0 478.4,1333.7 479.6,1335.8 480.8,1333.4 482.0,1339.2 483.2,1334.4 484.4,1337.5 485.6,1331.9 486.8,1338.7 488.0,1334.3 489.2,1336.4 490.4,1330.5 491.6,1336.6 492.8,1339.5 494.0,1336.4 495.2,1337.7 496.4,1330.7 497.6,1332.3 498.8,1328.3 500.0,1331.3 501.2,1334.1 502.4,1340.0 503.5,1329.1 504.7,1331.4 505.9,1330.8 507.1,1331.0 508.2,1326.5 509.4,1331.9 510.6,1330.7 511.8,1333.2 512.9,1336.1 514.1,1330.6 515.3,1335.2 516.5,1330.5 517.6,1328.5 518.8,1328.6 520.0,1328.5 521.2,1329.5 522.4,1325.1 523.5,1329.8 524.7,1323.3 525.9,1318.8 527.1,1321.8 528.2,1318.2 529.4,1325.7 530.6,1321.5 531.8,1317.8 532.9,1327.4 534.1,1315.3 535.3,1313.0 536.5,1319.3 537.6,1307.5 538.8,1313.4 540.0,1306.4 541.2,1311.3 542.4,1311.2 543.5,1315.3 544.7,1314.6 545.9,1307.8 547.1,1310.5 548.2,1305.8 549.4,1312.1 550.6,1304.2 551.8,1304.2 552.9,1305.6 554.1,1301.1 555.3,1301.9 556.5,1307.5 557.6,1300.8 558.8,1305.2 560.0,1302.2 561.2,1302.1 562.4,1298.2 563.5,1300.0 564.7,1299.6 565.9,1298.5 567.1,1295.4 568.2,1300.0 569.4,1293.9 570.6,1300.8 571.8,1299.0 572.9,1294.6 574.1,1288.0 575.3,1295.8 576.5,1290.8 577.6,1297.1 578.8,1287.1 580.0,1289.4 581.2,1290.6 582.4,1297.1 583.5,1290.3 584.7,1293.6 585.9,1289.3 587.1,1282.2 588.2,1285.5 589.4,1285.9 590.6,1289.1 591.8,1277.1 592.9,1281.2 594.1,1285.8 595.3,1281.0 596.5,1285.0 597.6,1281.8 598.8,1279.9 600.0,1277.2 601.2,1276.4 602.4,1280.5 603.5,1280.8 604.7,1269.4 605.9,1279.2 607.1,1272.9 608.2,1273.6 609.4,1270.6 610.6,1269.8 611.8,1274.3 612.9,1266.9 614.1,1267.0 615.3,1271.0 616.5,1266.6 617.6,1270.8 618.8,1266.7 620.0,1263.4 621.2,1269.5 622.4,1260.9 623.5,1260.9 624.7,1260.3 625.9,1261.2 627.1,1263.6 628.2,1251.1 629.4,1258.2 630.6,1263.8 631.8,1255.5 632.9,1258.5 634.1,1255.8 635.3,1250.4 636.5,1248.0 637.6,1253.8 638.8,1253.7 640.0,1243.0 641.2,1246.4 642.4,1243.2 643.5,1244.2 644.7,1239.2 645.9,1244.3 647.1,1241.8 648.2,1234.1 649.4,1234.5 650.6,1237.3 651.8,1234.6 652.9,1231.2 654.1,1234.9 655.3,1232.1 656.5,1228.7 657.6,1229.7 658.8,1222.7 660.0,1223.9 661.2,1223.4 662.4,1221.9 663.5,1216.2 664.7,1219.7 665.9,1220.2 667.1,1220.8 668.2,1214.2 669.4,1215.6 670.6,1210.4 671.8,1216.4 672.9,1205.9 674.1,1208.8 675.3,1209.2 676.5,1211.0 677.6,1205.6 678.8,1199.0 680.0,1208.1 681.2,1203.6 682.4,1197.3 683.5,1202.9 684.7,1203.1 685.9,1198.1 687.1,1197.3 688.2,1196.8 689.4,1196.1 690.6,1195.7 691.8,1188.2 692.9,1190.3 694.1,1187.7 695.3,1188.8 696.5,1194.5 697.6,1193.6 698.8,1185.3 700.0,1183.4 701.2,1180.9 702.4,1180.1 703.5,1182.5 704.7,1185.4 705.9,1183.1 707.1,1184.3 708.2,1185.7 709.4,1183.8 710.6,1177.7 711.8,1185.2 712.9,1187.9 714.1,1185.6 715.3,1183.8 716.5,1187.6 717.6,1185.5 718.8,1189.2 720.0,1184.7 721.2,1181.5 722.4,1185.7 723.5,1183.5 724.7,1184.7 725.9,1179.7 727.1,1180.3 728.2,1178.2 729.4,1182.0 730.6,1182.8 731.8,1177.9 732.9,1180.0 734.1,1180.8 735.3,1178.8 736.5,1178.6 737.6,1173.3 738.8,1170.9 740.0,1176.9 741.2,1172.8 742.5,1179.1 743.8,1178.6 745.0,1170.1 746.2,1172.5 747.5,1166.9 748.8,1168.9 750.0,1166.9 751.2,1168.4 752.4,1180.3 753.5,1172.7 754.7,1180.5 755.9,1174.6 757.1,1171.6 758.2,1174.6 759.4,1166.7 760.6,1167.3 761.8,1174.1 762.9,1173.8 764.1,1171.2 765.3,1177.5 766.5,1168.7 767.6,1175.5 768.8,1170.3 770.0,1164.1 771.2,1176.5 772.5,1171.8 773.8,1177.8 775.0,1175.1 776.2,1179.0 777.5,1180.9 778.8,1179.5 780.0,1181.3 781.2,1177.4 782.5,1180.1 783.8,1172.8 785.0,1176.3 786.2,1166.2 787.5,1171.6 788.8,1167.6 790.0,1169.1 791.2,1165.4 792.5,1160.5 793.8,1162.7 795.0,1171.4 796.2,1175.3 797.5,1173.3 798.8,1173.4 800.0,1177.7 801.2,1174.1 802.4,1176.1 803.5,1177.3 804.7,1174.2 805.9,1172.6 807.1,1179.7 808.2,1175.8 809.4,1179.9 810.6,1183.5 811.8,1183.4 812.9,1182.4 814.1,1182.2 815.3,1188.5 816.5,1188.6 817.6,1183.6 818.8,1187.1 820.0,1190.5 821.2,1192.2 822.4,1192.2 823.5,1191.2 824.7,1187.8 825.9,1197.4 827.1,1199.5 828.2,1191.7 829.4,1192.0 830.6,1201.9 831.8,1199.8 832.9,1194.2 834.1,1194.5 835.3,1201.0 836.5,1205.2 837.6,1202.6 838.8,1204.4 840.0,1200.9 841.2,1200.7 842.4,1208.0 843.5,1204.8 844.7,1207.3 845.9,1209.4 847.1,1211.9 848.2,1208.4 849.4,1209.0 850.6,1207.1 851.8,1215.7 852.9,1214.0 854.1,1213.4 855.3,1211.2 856.5,1216.8 857.6,1221.7 858.8,1221.3 860.0,1221.4 861.2,1219.2 862.4,1220.7 863.5,1220.9 864.7,1225.0 865.9,1224.0 867.1,1219.8 868.2,1226.4 869.4,1230.6 870.6,1229.6 871.8,1223.1 872.9,1225.0 874.1,1237.9 875.3,1227.3 876.5,1230.1 877.6,1234.4 878.8,1235.5 880.0,1239.7 881.2,1238.0 882.4,1239.1 883.5,1240.1 884.7,1242.4 885.9,1242.9 887.1,1241.7 888.2,1236.6 889.4,1245.0 890.6,1239.1 891.8,1242.0 892.9,1244.1 894.1,1246.7 895.3,1247.1 896.5,1249.2 897.6,1245.2 898.8,1242.3 900.0,1246.6 901.2,1250.2 902.4,1245.3 903.5,1245.9 904.7,1242.8 905.9,1242.2 907.1,1250.3 908.2,1249.5 909.4,1247.0 910.6,1242.3 911.8,1248.6 912.9,1243.5 914.1,1252.0 915.3,1240.9 916.5,1243.3 917.6,1249.0 918.8,1249.2 920.0,1247.1 921.2,1257.1 922.5,1250.0 923.8,1250.3 925.0,1253.5 926.2,1245.8 927.5,1258.7 928.8,1260.1 930.0,1259.8 931.2,1257.4 932.5,1256.8 933.8,1254.8 935.0,1255.3 936.2,1260.5 937.5,1261.6 938.8,1256.0 940.0,1262.1 941.2,1260.0 942.5,1261.0 943.8,1256.4 945.0,1257.7 946.2,1259.4 947.5,1260.3 948.8,1260.1 950.0,1260.5 951.2,1256.1 952.5,1257.6 953.8,1259.9 955.0,1255.7 956.2,1251.6 957.5,1252.5 958.8,1250.0 960.0,1246.4 961.2,1258.5 962.4,1251.3 963.5,1258.9 964.7,1244.9 965.9,1242.0 967.1,1256.2 968.2,1249.2 969.4,1244.4 970.6,1246.0 971.8,1243.2 972.9,1250.3 974.1,1247.4 975.3,1242.9 976.5,1242.6 977.6,1246.3 978.8,1246.4 980.0,1240.5 981.2,1238.6 982.4,1242.7 983.5,1246.9 984.7,1240.9 985.9,1238.9 987.1,1238.0 988.2,1231.0 989.4,1243.1 990.6,1235.1 991.8,1235.9 992.9,1225.8 994.1,1226.3 995.3,1225.9 996.5,1221.1 997.6,1228.1 998.8,1224.1 1000.0,1219.3 1001.2,1220.6 1002.4,1223.8 1003.5,1212.3 1004.7,1215.7 1005.9,1212.3 1007.1,1213.0 1008.2,1209.1 1009.4,1213.6 1010.6,1208.1 1011.8,1203.5 1012.9,1208.7 1014.1,1199.6 1015.3,1194.1 1016.5,1199.2 1017.6,1191.2 1018.8,1199.0 1020.0,1200.9 1021.2,1198.3 1022.4,1186.3 1023.5,1193.8 1024.7,1194.2 1025.9,1192.1 1027.1,1198.8 1028.2,1192.4 1029.4,1182.3 1030.6,1187.7 1031.8,1185.3 1032.9,1181.5 1034.1,1184.2 1035.3,1183.2 1036.5,1185.8 1037.6,1186.0 1038.8,1178.8 1040.0,1180.5 1041.2,1186.9 1042.4,1169.2 1043.5,1178.4 1044.7,1174.4 1045.9,1177.6 1047.1,1170.4 1048.2,1163.7 1049.4,1171.3 1050.6,1167.8 1051.8,1165.6 1052.9,1162.1 1054.1,1157.7 1055.3,1159.9 1056.5,1156.7 1057.6,1158.9 1058.8,1155.9 1060.0,1159.1 1061.2,1152.5 1062.5,1151.5 1063.8,1149.8 1065.0,1146.9 1066.2,1148.7 1067.5,1149.8 1068.8,1149.1 1070.0,1148.3 1071.2,1147.4 1072.5,1143.0 1073.8,1144.6 1075.0,1143.2 1076.2,1140.1 1077.5,1143.0 1078.8,1145.0 1080.0,1145.6 1081.2,1143.4 1082.5,1136.5 1083.8,1150.0 1085.0,1150.8 1086.2,1140.0 1087.5,1148.3 1088.8,1142.5 1090.0,1136.7 1091.2,1142.0 1092.5,1146.6 1093.8,1147.2 1095.0,1140.2 1096.2,1138.5 1097.5,1144.9 1098.8,1145.7 1100.0,1141.9 1101.2,1142.9 1102.5,1145.6 1103.8,1141.9 1105.0,1147.2 1106.2,1146.8 1107.5,1138.0 1108.8,1145.7 1110.0,1148.2 1111.2,1149.7 1112.5,1146.4 1113.8,1161.1 1115.0,1148.8 1116.2,1157.3 1117.5,1156.7 1118.8,1152.0 1120.0,1160.5 1121.2,1157.5 1122.5,1163.5 1123.8,1161.6 1125.0,1156.5 1126.2,1159.5 1127.5,1162.1 1128.8,1153.9 1130.0,1160.3 1131.2,1161.1 1132.5,1158.8 1133.8,1157.3 1135.0,1157.6 1136.2,1158.7 1137.5,1158.2 1138.8,1159.9 1140.0,1154.5 1141.2,1153.7 1142.5,1154.0 1143.8,1162.6 1145.0,1161.3 1146.2,1158.0 1147.5,1158.1 1148.8,1156.5 1150.0,1162.0 1151.2,1158.1 1152.5,1166.8 1153.8,1157.6 1155.0,1163.0 1156.2,1161.0 1157.5,1167.5 1158.8,1169.2 1160.0,1167.7 1161.2,1171.7 1162.5,1180.4 1163.8,1172.9 1165.0,1182.5 1166.2,1184.5 1167.5,1190.8 1168.8,1194.6 1170.0,1198.9 1171.2,1204.5 1172.5,1208.6 1173.8,1214.0 1175.0,1217.1 1176.2,1221.1 1177.5,1226.8 1178.8,1232.8 1180.0,1236.9 1181.2,1242.6 1182.5,1245.3 1183.8,1251.6 1185.0,1255.0 1186.2,1266.2 1187.5,1275.6 1188.8,1282.5 1190.0,1293.8 1191.1,1299.7 1192.3,1302.9 1193.4,1309.9 1194.6,1314.6 1195.7,1320.5 1196.9,1325.4 1198.0,1330.4 1199.1,1333.4 1200.2,1338.7 1201.4,1346.2 1202.5,1349.9 1203.6,1353.2 1204.8,1358.6 1205.9,1363.7 1207.0,1367.5 1208.2,1372.3 1209.5,1376.2 1210.8,1377.2 1212.0,1384.6 1213.2,1387.3 1214.5,1392.9 1215.8,1395.7 1217.0,1393.2 1218.2,1396.3 1219.4,1401.4 1220.5,1399.7 1221.7,1398.6 1222.9,1402.6 1224.1,1408.1 1225.3,1405.4 1226.5,1406.7 1227.6,1413.5 1228.8,1415.2 1230.0,1414.5 1231.2,1414.6 1232.5,1422.8 1233.8,1422.4 1235.0,1423.8 1236.2,1424.2 1237.5,1424.3 1238.8,1424.9 1240.0,1426.7 1241.2,1427.8 1242.5,1435.3 1243.8,1427.2 1245.0,1435.6 1246.2,1432.0 1247.5,1433.8 1248.8,1433.9 1250.0,1431.9 1251.2,1432.5 1252.5,1428.5 1253.8,1426.6 1255.0,1429.8 1256.2,1428.9 1257.5,1429.5 1258.8,1428.0 1260.0,1430.4 1261.2,1431.2 1262.5,1433.7 1263.8,1428.8 1265.0,1434.2 1266.2,1443.2 1267.5,1434.3 1268.8,1434.1 1270.0,1439.8 1271.2,1443.0 1272.5,1430.5 1273.8,1428.4 1275.0,1436.2 1276.2,1425.9 1277.5,1432.3 1278.8,1428.1 1280.0,1424.2 1281.2,1424.4 1282.4,1430.3 1283.5,1417.0 1284.7,1417.0 1285.9,1425.7 1287.1,1421.9 1288.2,1419.9 1289.4,1419.1 1290.6,1416.0 1291.8,1418.2 1292.9,1418.9 1294.1,1414.5 1295.3,1418.0 1296.5,1409.1 1297.6,1412.8 1298.8,1409.1 1300.0,1410.6 1301.2,1402.9 1302.4,1416.2 1303.5,1412.7 1304.7,1410.8 1305.9,1405.2 1307.1,1404.7 1308.2,1401.6 1309.4,1405.1 1310.6,1404.2 1311.8,1404.0 1312.9,1401.6 1314.1,1409.0 1315.3,1405.0 1316.5,1404.5 1317.6,1401.5 1318.8,1399.9 1320.0,1403.0 1321.2,1395.3 1322.4,1402.7 1323.5,1388.6 1324.7,1403.9 1325.9,1388.4 1327.1,1396.4 1328.2,1398.0 1329.4,1396.3 1330.6,1394.2 1331.8,1392.6 1332.9,1393.6 1334.1,1394.9 1335.3,1390.0 1336.5,1384.0 1337.6,1395.1 1338.8,1384.6 1340.0,1384.2 1341.2,1389.0 1342.4,1380.8 1343.5,1385.4 1344.7,1381.9 1345.9,1377.5 1347.1,1382.8 1348.2,1377.5 1349.4,1383.8 1350.6,1380.7 1351.8,1370.5 1352.9,1379.6 1354.1,1377.2 1355.3,1374.2 1356.5,1378.5 1357.6,1372.0 1358.8,1363.0 1360.0,1371.4 1361.2,1376.6 1362.4,1373.0 1363.5,1365.9 1364.7,1369.0 1365.9,1370.5 1367.1,1370.5 1368.2,1367.3 1369.4,1355.8 1370.6,1360.8 1371.8,1360.2 1372.9,1368.9 1374.1,1362.9 1375.3,1360.6 1376.5,1363.8 1377.6,1365.4 1378.8,1365.7 1380.0,1362.5 1381.2,1361.6 1382.4,1365.9 1383.5,1357.7 1384.7,1355.3 1385.9,1359.5 1387.1,1355.9 1388.2,1358.2 1389.4,1357.9 1390.6,1352.1 1391.8,1358.6 1392.9,1357.3 1394.1,1356.6 1395.3,1358.7 1396.5,1357.7 1397.6,1353.1 1398.8,1352.7 1400.0,1354.1 1401.2,1355.5 1402.4,1355.1 1403.5,1357.3 1404.7,1352.0 1405.9,1363.4 1407.1,1349.3 1408.2,1354.8 1409.4,1353.7 1410.6,1362.1 1411.8,1353.6 1412.9,1355.8 1414.1,1353.7 1415.3,1358.0 1416.5,1346.9 1417.6,1356.9 1418.8,1351.1 1420.0,1347.1 1421.2,1356.1 1422.5,1358.7 1423.8,1360.5 1425.0,1357.7 1426.2,1359.9 1427.5,1355.6 1428.8,1358.1 1430.0,1363.8 1431.2,1366.8 1432.5,1363.5 1433.8,1357.2 1435.0,1360.7 1436.2,1351.5 1437.5,1349.8 1438.8,1342.7 1440.0,1345.4 1441.2,1350.5 1442.4,1338.0 1443.5,1347.5 1444.7,1346.1 1445.9,1339.2 1447.1,1341.3 1448.2,1341.8 1449.4,1339.8 1450.6,1342.0 1451.8,1334.9 1452.9,1333.2 1454.1,1333.9 1455.3,1331.7 1456.5,1335.6 1457.6,1327.9 1458.8,1330.2 1460.0,1335.8 1461.2,1335.6 1462.4,1324.8 1463.5,1332.5 1464.7,1323.8 1465.9,1327.7 1467.1,1328.1 1468.2,1327.1 1469.4,1324.4 1470.6,1325.2 1471.8,1327.7 1472.9,1329.3 1474.1,1329.0 1475.3,1317.5 1476.5,1326.0 1477.6,1321.4 1478.8,1323.5 1480.0,1320.3 1481.2,1320.4 1482.4,1324.1 1483.5,1318.4 1484.7,1313.9 1485.9,1307.8 1487.1,1310.7 1488.2,1304.2 1489.4,1307.9 1490.6,1305.4 1491.8,1300.1 1492.9,1297.8 1494.1,1294.6 1495.3,1297.5 1496.5,1295.2 1497.6,1297.2 1498.8,1290.7 1500.0,1295.3 1501.2,1291.3 1502.4,1285.6 1503.5,1281.2 1504.7,1285.2 1505.9,1283.5 1507.1,1282.1 1508.2,1280.8 1509.4,1279.9 1510.6,1278.8 1511.8,1281.0 1512.9,1276.5 1514.1,1276.3 1515.3,1270.2 1516.5,1279.5 1517.6,1274.4 1518.8,1272.3 1520.0,1267.7 1521.2,1266.3 1522.4,1270.4 1523.5,1263.3 1524.7,1262.3 1525.9,1261.9 1527.1,1263.2 1528.2,1262.5 1529.4,1254.8 1530.6,1254.0 1531.8,1257.0 1532.9,1251.2 1534.1,1247.5 1535.3,1246.2 1536.5,1247.6 1537.6,1244.4 1538.8,1240.5 1540.0,1242.9 1541.2,1245.6 1542.4,1239.6 1543.5,1241.8 1544.7,1230.4 1545.9,1232.8 1547.1,1239.5 1548.2,1239.5 1549.4,1233.0 1550.6,1233.5 1551.8,1229.9 1552.9,1228.2 1554.1,1221.0 1555.3,1226.2 1556.5,1225.7 1557.6,1218.5 1558.8,1225.6 1560.0,1221.3 1561.2,1212.7 1562.4,1218.6 1563.5,1214.7 1564.7,1210.7 1565.9,1215.5 1567.1,1205.3 1568.2,1206.3 1569.4,1204.8 1570.6,1200.5 1571.8,1195.3 1572.9,1194.0 1574.1,1194.9 1575.3,1197.3 1576.5,1189.8 1577.6,1189.5 1578.8,1183.8 1580.0,1179.4 1581.2,1183.8 1582.4,1175.6 1583.5,1174.4 1584.7,1176.2 1585.9,1178.2 1587.1,1167.8 1588.2,1171.6 1589.4,1163.8 1590.6,1162.5 1591.8,1164.7 1592.9,1162.4 1594.1,1158.7 1595.3,1151.2 1596.5,1145.6 1597.6,1147.0 1598.8,1145.3 1600.0,1145.6 1601.2,1144.9 1602.4,1143.3 1603.5,1137.6 1604.7,1139.2 1605.9,1134.0 1607.1,1130.1 1608.2,1135.3 1609.4,1122.7 1610.6,1127.4 1611.8,1128.8 1612.9,1124.1 1614.1,1123.7 1615.3,1122.6 1616.5,1118.2 1617.6,1116.6 1618.8,1119.0 1620.0,1117.5 1621.2,1115.4 1622.4,1114.5 1623.5,1121.4 1624.7,1107.4 1625.9,1111.6 1627.1,1104.6 1628.2,1108.2 1629.4,1108.6 1630.6,1103.9 1631.8,1098.8 1632.9,1099.2 1634.1,1091.3 1635.3,1096.7 1636.5,1097.2 1637.6,1098.8 1638.8,1097.3 1640.0,1094.4 1641.2,1091.7 1642.5,1090.4 1643.8,1093.2 1645.0,1090.3 1646.2,1088.6 1647.5,1085.8 1648.8,1089.7 1650.0,1087.6 1651.2,1081.0 1652.5,1098.0 1653.8,1095.2 1655.0,1092.8 1656.2,1094.0 1657.5,1098.1 1658.8,1100.8 1660.0,1098.4 1661.2,1103.1 1662.5,1099.9 1663.8,1108.0 1665.0,1109.1 1666.2,1109.0 1667.5,1112.3 1668.8,1112.5 1670.0,1115.2 1671.2,1118.8 1672.5,1119.1 1673.8,1117.4 1675.0,1120.3 1676.2,1121.1 1677.5,1128.4 1678.8,1124.6 1680.0,1132.5 1681.2,1136.8 1682.5,1143.3 1683.8,1150.8 1685.0,1161.7 1686.2,1160.3 1687.3,1163.6 1688.5,1163.4 1689.7,1170.2 1690.8,1170.0 1692.0,1171.4 1693.1,1171.7 1694.3,1176.2 1695.4,1179.4 1696.6,1170.9 1697.7,1180.6 1698.9,1181.2 1700.0,1193.7 1701.2,1190.2 1702.5,1189.3 1703.8,1195.6 1705.0,1190.0 1706.2,1194.1 1707.5,1194.3 1708.8,1199.5 1710.0,1201.5 1711.2,1204.7 1712.5,1208.5 1713.8,1213.8 1715.0,1210.0 1716.2,1226.3 1717.5,1224.1 1718.8,1232.6 1720.0,1227.6 1721.2,1236.9 1722.5,1225.2 1723.8,1243.9 1725.0,1238.4 1726.2,1235.5 1727.5,1242.8 1728.8,1244.9 1730.0,1246.7 1731.2,1254.5 1732.5,1259.6 1733.8,1254.1 1735.0,1263.4 1736.2,1262.0 1737.5,1268.6 1738.8,1261.8 1740.0,1275.4 1741.2,1274.1 1742.5,1276.5 1743.8,1284.4 1745.0,1281.7 1746.2,1287.1 1747.5,1289.3 1748.8,1287.6 1750.0,1285.6 1751.2,1284.2 1752.5,1295.0 1753.8,1293.6 1755.0,1288.5 1756.2,1289.7 1757.5,1291.1 1758.8,1292.5 1760.0,1291.4 1761.2,1291.4 1762.5,1294.3 1763.8,1290.9 1765.0,1294.1 1766.2,1294.9 1767.5,1297.8 1768.8,1297.1 1770.0,1298.5 1771.2,1294.6 1772.5,1297.1 1773.8,1301.2 1775.0,1299.1 1776.2,1296.8 1777.5,1298.7 1778.8,1293.3 1780.0,1290.2 1781.2,1294.0 1782.5,1291.2 1783.8,1285.0 1785.0,1291.3 1786.2,1289.4 1787.5,1287.0 1788.8,1283.8 1790.0,1285.3 1791.2,1275.1 1792.5,1283.3 1793.8,1277.0 1795.0,1278.4 1796.2,1277.8 1797.5,1271.9 1798.8,1271.0 1800.0,1268.1 1801.2,1262.5 1802.5,1266.4 1803.8,1264.5 1805.0,1261.6 1806.2,1255.8 1807.3,1253.3 1808.5,1245.9 1809.7,1240.5 1810.8,1235.3 1812.0,1231.4 1813.1,1226.0 1814.3,1223.5 1815.4,1224.8 1816.6,1219.5 1817.7,1217.9 1818.9,1219.7 1820.0,1213.7 1821.2,1208.1 1822.5,1203.0 1823.8,1196.4 1825.0,1195.4 1826.2,1190.2 1827.5,1185.7 1828.8,1180.0 1830.0,1173.8 1831.2,1173.1 1832.5,1168.0 1833.8,1166.7 1835.0,1170.1 1836.2,1172.4 1837.5,1162.7 1838.8,1162.4 1840.0,1157.9 1841.2,1149.3 1842.5,1139.6 1843.8,1133.3 1845.0,1124.0 1846.2,1119.9 1847.3,1113.1 1848.5,1105.2 1849.7,1101.2 1850.8,1093.9 1852.0,1088.8 1853.1,1084.1 1854.3,1076.9 1855.4,1074.8 1856.6,1069.0 1857.7,1063.2 1858.9,1055.9 1860.0,1051.1 1861.1,1046.5 1862.3,1042.1 1863.4,1035.9 1864.6,1031.1 1865.7,1027.5 1866.9,1021.1 1868.0,1018.0 1869.2,1013.5 1870.3,1008.5 1871.5,1006.0 1872.7,1001.6 1873.8,998.7 1875.0,1000.9 1876.2,988.9 1877.5,986.8 1878.8,988.2 1880.0,983.3 1881.2,982.3 1882.5,979.9 1883.8,975.3 1885.0,970.7 1886.2,971.7 1887.5,970.1 1888.8,967.9 1890.0,969.2 1891.2,966.2 1892.5,960.5 1893.8,968.2 1895.0,969.0 1896.2,966.5 1897.5,964.5 1898.8,973.3 1900.0,968.6 1901.2,968.2 1902.5,968.2 1903.8,968.4 1905.0,972.3 1906.2,973.9 1907.5,975.8 1908.8,978.3 1910.0,978.4 1911.2,983.4 1912.5,983.2 1913.8,985.9 1915.0,983.1 1916.2,979.4 1917.5,984.6 1918.8,984.5 1920.0,987.1 1921.2,985.3 1922.5,987.6 1923.8,995.3 1925.0,985.2 1926.2,985.9 1927.5,986.6 1928.8,989.5 1930.0,986.5 1931.2,987.5 1932.5,986.7 1933.8,986.1 1935.0,979.4 1936.1,983.0 1937.3,974.9 1938.4,977.7 1939.6,975.3 1940.7,971.0 1941.9,970.8 1943.0,968.8 1944.2,960.8 1945.5,965.4 1946.8,963.3 1948.0,957.1 1949.3,949.7 1950.7,942.1 1952.0,933.5 1953.5,924.4 1955.0,917.0 1956.5,907.7 1958.0,898.8 1959.3,890.4 1960.7,882.2 1962.0,870.8 1963.2,865.9 1964.5,858.7 1965.8,850.4 1967.0,844.7 1968.5,837.6 1970.0,828.9 1971.3,822.6 1972.7,815.2 1974.0,808.4 1975.5,795.3 1977.0,782.3 1978.2,783.3 1979.4,783.7 1980.6,782.8 1981.8,784.8 1983.0,781.7 1984.2,779.3 1985.5,781.3 1986.8,783.8 1988.0,782.2 1989.5,797.0 1991.0,809.5 1992.5,821.5 1994.0,836.7 1995.5,857.8 1997.0,878.7 1998.5,897.1 2000.0,913.2 2001.5,934.7 2003.0,955.5 2004.5,978.1 2006.0,999.1 2007.3,1022.4 2008.7,1046.4 2010.0,1070.1 2011.3,1093.3 2012.7,1117.1 2014.0,1141.6 2015.3,1164.8 2016.7,1187.2 2018.0,1211.2 2019.5,1234.4 2021.0,1259.8 2022.0,1279.3 2023.0,1297.8 2024.0,1323.3 2025.0,1350.6 2026.2,1359.1 2027.4,1369.9 2028.6,1378.1 2029.8,1391.3 2031.0,1401.7 2032.2,1409.5 2033.5,1421.1 2034.8,1429.7 2036.0,1439.1 2037.1,1446.9 2038.2,1451.6 2039.3,1458.4 2040.4,1464.7 2041.5,1468.9 2042.7,1475.9 2043.9,1477.7 2045.1,1482.3 2046.4,1486.3 2047.6,1493.1 2048.8,1495.0 2050.0,1498.7 2051.2,1505.6 2052.5,1504.9 2053.8,1504.3 2055.0,1512.6 2056.2,1524.9 2057.5,1513.0 2058.8,1520.9 2060.0,1521.2 2061.2,1527.0 2062.5,1530.0 2063.8,1525.9 2065.0,1533.2 2066.2,1535.2 2067.5,1535.8 2068.8,1528.1 2070.0,1542.6 2071.1,1535.1 2072.2,1537.4 2073.4,1545.1 2074.5,1542.4 2075.6,1542.3 2076.8,1536.8 2077.9,1553.5 2079.0,1550.7 2080.2,1550.2 2081.3,1551.1 2082.5,1555.8 2083.7,1551.3 2084.8,1552.2 2086.0,1552.1 2087.2,1555.2 2088.3,1553.7 2089.5,1553.3 2090.7,1552.2 2091.8,1556.1 2093.0,1560.7 2094.2,1556.2 2095.3,1557.0 2096.5,1554.8 2097.7,1556.7 2098.8,1553.7 2100.0,1554.7 2101.2,1554.4 2102.5,1554.7 2103.8,1553.0 2105.0,1561.4 2106.2,1560.3 2107.5,1562.7 2108.8,1559.7 2110.0,1563.6 2111.2,1559.5 2112.4,1570.2 2113.5,1559.0 2114.7,1564.7 2115.9,1558.2 2117.1,1557.1 2118.2,1563.3 2119.4,1563.2 2120.6,1561.9 2121.8,1557.2 2122.9,1563.6 2124.1,1562.1 2125.3,1563.5 2126.5,1565.4 2127.6,1566.0 2128.8,1564.1 2130.0,1565.7 2131.2,1557.8 2132.4,1560.1 2133.5,1559.7 2134.7,1568.4 2135.9,1571.0 2137.1,1561.7 2138.2,1563.5 2139.4,1568.2 2140.6,1567.5 2141.8,1564.4 2142.9,1563.9 2144.1,1565.6 2145.3,1570.7 2146.5,1566.4 2147.6,1570.6 2148.8,1569.5 2150.0,1569.3 2151.2,1569.4 2152.4,1567.2 2153.5,1572.6 2154.7,1572.2 2155.9,1564.3 2157.1,1571.2 2158.2,1571.6 2159.4,1568.8 2160.6,1571.3 2161.8,1567.7 2162.9,1566.5 2164.1,1570.0 2165.3,1567.4 2166.5,1570.5 2167.6,1571.5 2168.8,1573.8 2170.0,1567.0 2171.2,1569.3 2172.4,1569.8 2173.5,1579.7 2174.7,1573.2 2175.9,1571.8 2177.1,1568.9 2178.2,1573.7 2179.4,1572.3 2180.6,1582.3 2181.8,1567.0 2182.9,1575.0 2184.1,1573.8 2185.3,1572.8 2186.5,1577.8 2187.6,1575.4 2188.8,1569.6 2190.0,1569.7 2191.2,1576.0 2192.4,1574.0 2193.6,1576.9 2194.8,1572.9 2196.1,1574.7 2197.3,1568.8 2198.5,1570.4 2199.7,1581.0 2200.9,1573.4 2202.1,1571.5 2203.3,1577.3 2204.5,1570.2 2205.8,1570.2 2207.0,1577.7 2208.2,1570.8 2209.4,1571.2 2210.6,1581.3 2211.8,1576.0 2213.0,1577.0 2214.2,1567.4 2215.5,1568.8 2216.7,1573.6 2217.9,1577.0 2219.1,1573.0 2220.3,1573.4 2221.5,1573.2 2222.7,1564.1 2223.9,1570.1 2225.2,1569.7 2226.4,1578.3 2227.6,1576.8 2228.8,1578.3 2230.0,1574.3 2231.2,1575.0 2232.4,1576.0 2233.5,1573.9 2234.7,1573.2 2235.9,1573.9 2237.1,1574.0 2238.2,1577.7 2239.4,1575.1 2240.6,1571.8 2241.8,1578.6 2242.9,1577.8 2244.1,1575.9 2245.3,1578.3 2246.5,1573.7 2247.6,1568.6 2248.8,1573.4 2250.0,1578.0 2251.2,1574.0 2252.4,1582.7 2253.5,1580.5 2254.7,1580.8 2255.9,1572.8 2257.1,1577.2 2258.2,1586.3 2259.4,1569.9 2260.6,1581.8 2261.8,1580.7 2262.9,1577.8 2264.1,1577.7 2265.3,1576.3 2266.5,1579.9 2267.6,1578.0 2268.8,1578.7 2270.0,1574.4 2271.2,1579.6 2272.4,1576.7 2273.5,1573.5 2274.7,1573.1 2275.9,1574.1 2277.1,1577.1 2278.2,1575.4 2279.4,1577.8 2280.6,1571.2 2281.8,1570.7 2282.9,1573.3 2284.1,1578.6 2285.3,1582.9 2286.5,1578.4 2287.6,1574.8 2288.8,1574.1 2290.0,1575.2 2291.2,1575.5 2292.4,1574.6 2293.6,1578.6 2294.8,1579.7 2296.0,1574.4 2297.2,1574.1 2298.4,1575.7 2299.6,1580.3 2300.8,1582.6 2302.0,1581.9 2303.2,1580.6 2304.4,1575.8 2305.6,1574.8 2306.8,1580.3 2308.0,1581.7" fill="none" stroke="#000" stroke-width="2.8" stroke-linejoin="bevel"/>
<rect x="166" y="30.5" width="2144.7" height="1578" fill="none" stroke="#000" stroke-width="5.5"/>
<path d="M166.0,1608 V1639 M404.3,1608 V1623 M642.6,1608 V1639 M880.9,1608 V1623 M1119.2,1608 V1639 M1357.5,1608 V1623 M1595.8,1608 V1639 M1834.1,1608 V1623 M2072.4,1608 V1639 M2310.7,1608 V1623" stroke="#000" stroke-width="5" fill="none"/>
<g class="sans" font-size="63" fill="#000" transform="translate(0,1711) scale(1,1.06) translate(0,-1711)">
<text x="166.0" y="1711" text-anchor="middle">890</text><text x="642.6" y="1711" text-anchor="middle">880</text><text x="1119.2" y="1711" text-anchor="middle">870</text><text x="1595.8" y="1711" text-anchor="middle">860</text><text x="2072.4" y="1711" text-anchor="middle">850</text>
</g>
<line x1="221.6" y1="107.8" x2="383.2" y2="107.8" stroke="#ff5a5a" stroke-width="3"/>
<line x1="221.6" y1="199.8" x2="383.2" y2="199.8" stroke="#5a5a5a" stroke-width="3"/>
<g class="sans" font-size="73" fill="#000">
<text x="404" y="132">Reacted</text>
<text x="404" y="223">Original</text>
</g>
<g class="sans" fill="#000">
<text><tspan x="553.2" y="424.3" font-size="66">Ni</tspan><tspan x="615.3" y="398.3" font-size="46">2</tspan><tspan x="640.6" y="398.3" font-size="46">+</tspan><tspan x="663.6" y="424.3" font-size="66">2</tspan><tspan x="701.0" y="424.3" font-size="66">p</tspan><tspan x="738.3" y="441.8" font-size="46">1/2</tspan></text><text><tspan x="895.1" y="424.9" font-size="66">Ni</tspan><tspan x="956.6" y="398.9" font-size="46">2</tspan><tspan x="980.6" y="398.9" font-size="46">+</tspan><tspan x="1004.9" y="424.9" font-size="66">2</tspan><tspan x="1040.3" y="424.9" font-size="66">p</tspan><tspan x="1077.6" y="442.4" font-size="46">1/2</tspan></text><text><tspan x="1463.9" y="424.2" font-size="66">Ni</tspan><tspan x="1523.5" y="398.2" font-size="46">2</tspan><tspan x="1549.5" y="398.2" font-size="46">+</tspan><tspan x="1571.4" y="424.2" font-size="66">2</tspan><tspan x="1607.2" y="424.2" font-size="66">p</tspan><tspan x="1642.3" y="441.7" font-size="46">3/2</tspan></text><text><tspan x="1825.7" y="369.5" font-size="66">Ni</tspan><tspan x="1888.8" y="343.5" font-size="46">2</tspan><tspan x="1914.4" y="343.5" font-size="46">+</tspan><tspan x="1937.2" y="369.5" font-size="66">2</tspan><tspan x="1975.7" y="369.5" font-size="66">p</tspan><tspan x="2012.7" y="387.0" font-size="46">3/2</tspan></text>
</g>
<g class="serif" font-size="59" fill="#000">
<text transform="translate(666.0,523.5) scale(0.940,1)" x="-44.0" y="0">878</text><text transform="translate(1035.8,514.3) scale(0.952,1)" x="-43.5" y="0">871</text><text transform="translate(1594.8,511.0) scale(0.940,1)" x="-44.0" y="0">860</text><text transform="translate(1831.2,494.5) scale(0.919,1)" x="-45.0" y="0">854</text><text transform="translate(1962.2,461.8) scale(0.952,1)" x="-43.5" y="0">852</text><text transform="translate(1986.6,760.6) scale(0.952,1)" x="-43.5" y="0">851</text><text transform="translate(1858.3,928.7) scale(0.940,1)" x="-44.0" y="0">853</text><text transform="translate(1639.8,1059.0) scale(0.940,1)" x="-44.0" y="0">859</text><text transform="translate(1112.0,1113.2) scale(0.940,1)" x="-44.0" y="0">870</text><text transform="translate(754.9,1136.4) scale(0.929,1)" x="-44.5" y="0">877</text>
</g>
<text class="serif" x="900" y="1833" font-size="78.5" fill="#000">Binding Energy(eV)</text>
<text class="sans" transform="translate(73,1088.5) rotate(-90)" x="0" y="0" font-size="72" textLength="447" lengthAdjust="spacingAndGlyphs" fill="#000">Intensity(a.u.)</text>
</svg>
</body></html>
